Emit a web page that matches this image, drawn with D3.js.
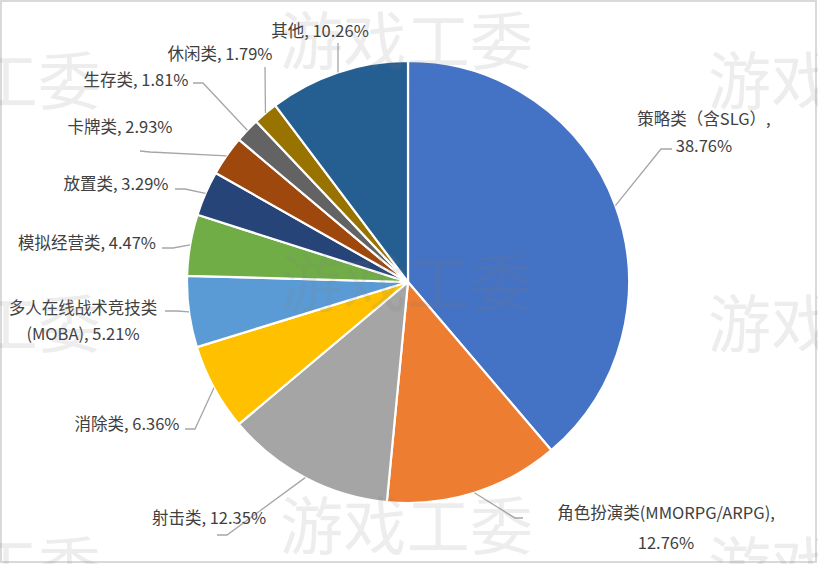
<!DOCTYPE html>
<html><head><meta charset="utf-8">
<script src="https://cdn.jsdelivr.net/npm/d3@7/dist/d3.min.js"></script>
<style>
html,body{margin:0;padding:0;background:#fff;}
svg{display:block;}
</style></head>
<body>
<svg id="chart" width="818" height="564"></svg>
<script>
// ---- data ----
const categories = ["策略类（含SLG）","角色扮演类(MMORPG/ARPG)","射击类","消除类","多人在线战术竞技类(MOBA)","模拟经营类","放置类","卡牌类","生存类","休闲类","其他"];
const values = [38.76, 12.76, 12.35, 6.36, 5.21, 4.47, 3.29, 2.93, 1.81, 1.79, 10.26];
const labelLines = [
  ["策略类（含SLG）,", "38.76%"],
  ["角色扮演类(MMORPG/ARPG),", "12.76%"],
  ["射击类, 12.35%"],
  ["消除类, 6.36%"],
  ["多人在线战术竞技类", "(MOBA), 5.21%"],
  ["模拟经营类, 4.47%"],
  ["放置类, 3.29%"],
  ["卡牌类, 2.93%"],
  ["生存类, 1.81%"],
  ["休闲类, 1.79%"],
  ["其他, 10.26%"]
];
const colors = ["#4472C4","#ED7D31","#A5A5A5","#FFC000","#5B9BD5","#70AD47","#264478","#9E480E","#636363","#997300","#255E91"];
const watermarkText = "游戏工委";

// ---- layout (label placement, as in the original) ----
const cx = 408, cy = 282, R = 221;
const labelLayout = [
  {tx:704, ty:[118,145], path:[[661,149],[672,149]]},
  {tx:666, ty:[512,542], path:[[515,518],[523,518]]},
  {tx:209, ty:[517], path:[[227,535],[217,535]]},
  {tx:127, ty:[423], path:[[195,429],[185,429]]},
  {tx:83, ty:[307,333], path:[[177,311],[165,311]]},
  {tx:87, ty:[242], path:[[173,248],[162,248]]},
  {tx:116, ty:[183], path:[[185,189],[175,189]]},
  {tx:120, ty:[126], path:[[150,152],[140,151]]},
  {tx:136, ty:[79], path:[[203,83],[193,83]]},
  {tx:220, ty:[53], path:[[265,67]]},
  {tx:320, ty:[30], path:[[338,43]]}
];

const svg = d3.select("#chart");
svg.append("rect").attr("x",1).attr("y",1).attr("width",815).attr("height",561)
  .attr("fill","#fff").attr("stroke","#d9d9d9").attr("stroke-width",2);

const data = categories.map((c,i)=>({name:c, value:values[i], i}));
const pie = d3.pie().value(d=>d.value).sort(null);
const arcs = pie(data);
const arc = d3.arc().innerRadius(0).outerRadius(R);
const edgeArc = d3.arc().innerRadius(R).outerRadius(R);

const g = svg.append("g").attr("transform",`translate(${cx},${cy})`);
g.selectAll("path.slice").data(arcs).join("path")
  .attr("class","slice")
  .attr("d",arc)
  .attr("fill",d=>colors[d.index])
  .attr("stroke","#fff").attr("stroke-width",2.2).attr("stroke-linejoin","round");

// leader lines
const line = d3.line();
svg.selectAll("path.leader").data(arcs).join("path")
  .attr("class","leader")
  .attr("d",d=>{
    const c = edgeArc.centroid(d);
    const pts = [[cx+c[0], cy+c[1]]].concat(labelLayout[d.index].path);
    return line(pts);
  })
  .attr("fill","none").attr("stroke","#a6a6a6").attr("stroke-width",1.3);

// labels
const font = "'Noto Sans CJK SC','Noto Sans',sans-serif";
arcs.forEach(d=>{
  const L = labelLayout[d.index];
  labelLines[d.index].forEach((t,k)=>{
    svg.append("text")
      .attr("x",L.tx).attr("y",L.ty[k])
      .attr("text-anchor","middle").attr("dominant-baseline","central")
      .attr("font-family",font).attr("font-size",16.5).attr("fill","#404040")
      .text(t);
  });
});

// watermark
const wmPos = [
  [280,36],[280,278],[280,521],
  [708,76],[708,319],[708,561],
  [-152,76],[-152,319],[-152,561]
];
svg.append("g").selectAll("text").data(wmPos).join("text")
  .attr("x",d=>d[0]).attr("y",d=>d[1])
  .attr("dominant-baseline","central")
  .attr("font-family",font).attr("font-size",63)
  .attr("textLength",253).attr("lengthAdjust","spacing")
  .attr("fill","#808080").attr("fill-opacity",0.14)
  .text(watermarkText);
</script>
</body></html>
